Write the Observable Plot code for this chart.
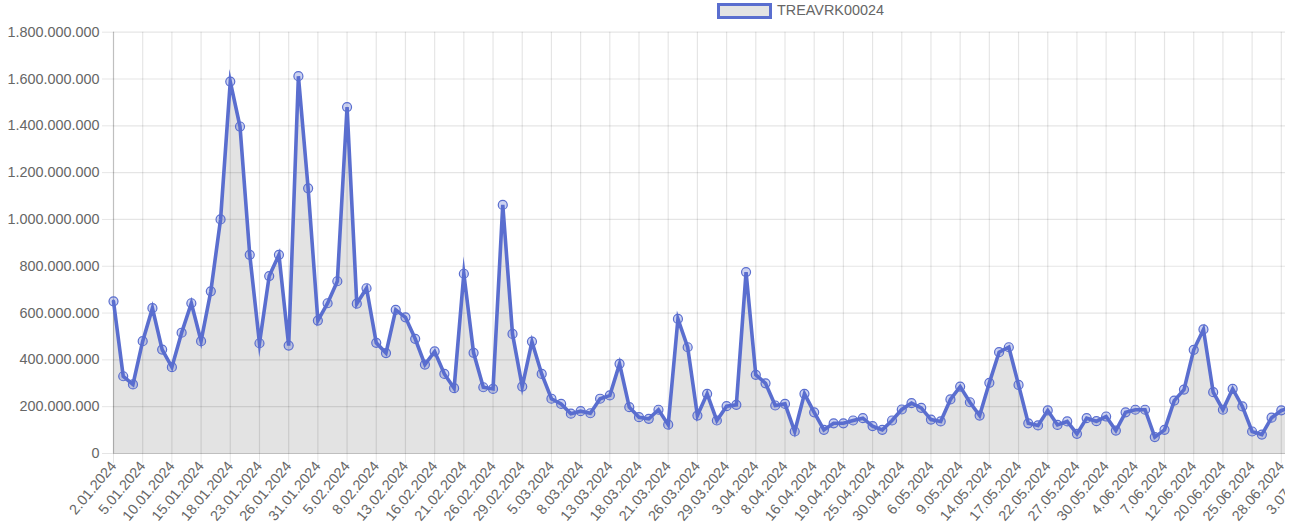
<!DOCTYPE html>
<html><head><meta charset="utf-8">
<script src="https://cdn.jsdelivr.net/npm/d3@7"></script>
<script src="https://cdn.jsdelivr.net/npm/@observablehq/plot@0.6"></script>
<style>
html,body{margin:0;padding:0;background:#fff;overflow:hidden;width:1298px;height:526px;}
#clip{position:absolute;left:0;top:0;width:1285px;height:526px;overflow:hidden;}
#inner{width:1330px;}
#legend{position:absolute;left:717px;top:3px;height:16px;font-family:"Liberation Sans",Arial,sans-serif;font-size:14.4px;color:#666;white-space:nowrap;}
#legend .box{position:absolute;left:0;top:0;width:55px;height:16px;box-sizing:border-box;border:3px solid #5a6ecf;background:#e3e3e3;}
#legend .lbl{position:absolute;left:60px;top:-1px;line-height:16px;}
</style></head><body>
<div id="clip"><div id="inner"></div></div>
<div id="legend"><span class="box"></span><span class="lbl">TREAVRK00024</span></div>
<script>
const seriesName = "TREAVRK00024";
const dates = [
"2.01.2024","3.01.2024","4.01.2024","5.01.2024","8.01.2024","9.01.2024","10.01.2024","11.01.2024","12.01.2024","15.01.2024","16.01.2024","17.01.2024","18.01.2024","19.01.2024","22.01.2024","23.01.2024","24.01.2024","25.01.2024","26.01.2024","29.01.2024","30.01.2024","31.01.2024",
"1.02.2024","2.02.2024","5.02.2024","6.02.2024","7.02.2024","8.02.2024","9.02.2024","12.02.2024","13.02.2024","14.02.2024","15.02.2024","16.02.2024","19.02.2024","20.02.2024","21.02.2024","22.02.2024","23.02.2024","26.02.2024","27.02.2024","28.02.2024","29.02.2024",
"1.03.2024","4.03.2024","5.03.2024","6.03.2024","7.03.2024","8.03.2024","11.03.2024","12.03.2024","13.03.2024","14.03.2024","15.03.2024","18.03.2024","19.03.2024","20.03.2024","21.03.2024","22.03.2024","25.03.2024","26.03.2024","27.03.2024","28.03.2024","29.03.2024",
"1.04.2024","2.04.2024","3.04.2024","4.04.2024","5.04.2024","8.04.2024","9.04.2024","15.04.2024","16.04.2024","17.04.2024","18.04.2024","19.04.2024","22.04.2024","24.04.2024","25.04.2024","26.04.2024","29.04.2024","30.04.2024",
"2.05.2024","3.05.2024","6.05.2024","7.05.2024","8.05.2024","9.05.2024","10.05.2024","13.05.2024","14.05.2024","15.05.2024","16.05.2024","17.05.2024","20.05.2024","21.05.2024","22.05.2024","23.05.2024","24.05.2024","27.05.2024","28.05.2024","29.05.2024","30.05.2024","31.05.2024",
"3.06.2024","4.06.2024","5.06.2024","6.06.2024","7.06.2024","10.06.2024","11.06.2024","12.06.2024","13.06.2024","14.06.2024","20.06.2024","21.06.2024","24.06.2024","25.06.2024","26.06.2024","27.06.2024","28.06.2024",
"1.07.2024","2.07.2024","3.07.2024"];
// values in millions
const valuesM = [
650,330,295,480,621,444,369,516,642,480,693,1000,1589,1397,849,471,758,849,461,1612,1133,568,
642,736,1480,640,706,473,429,614,582,490,380,436,340,279,768,430,283,276,1062,511,286,
478,340,234,212,170,181,172,234,248,383,198,155,148,187,123,575,454,162,255,141,202,
208,775,336,300,205,212,94,255,176,101,129,129,141,151,117,101,141,188,
215,195,145,137,231,286,219,162,302,433,454,293,129,120,184,122,137,84,151,138,158,98,
176,187,187,70,101,226,273,443,530,262,187,276,201,94,81,153,184,
195,190,185];
const yTicks = [0,200e6,400e6,600e6,800e6,1000e6,1200e6,1400e6,1600e6,1800e6];
const labelStep = 3;

const data = valuesM.map((v, i) => ({i, date: dates[i], v: v * 1e6}));
const xTicks = d3.range(0, dates.length, labelStep);
const fmt = d => String(Math.round(d)).replace(/\B(?=(\d{3})+(?!\d))/g, ".");
const grid = "rgba(0,0,0,0.1)";
const blue = "#5a6ecf";

const chart = Plot.plot({
  width: 1330, height: 526,
  marginLeft: 113, marginRight: 20, marginTop: 31.7, marginBottom: 73,
  style: {fontFamily: "'Liberation Sans', Arial, sans-serif", background: "white"},
  x: {type: "linear", domain: [0, dates.length - 1]},
  y: {domain: [0, 1.8e9]},
  marks: [
    Plot.areaY(data, {x: "i", y: "v", fill: "rgba(0,0,0,0.11)"}),
    Plot.ruleY(yTicks.slice(1), {stroke: grid, strokeWidth: 1.2}),
    Plot.ruleX(xTicks.slice(1), {y1: 0, y2: 1.8e9, stroke: grid, strokeWidth: 1.2}),
    Plot.ruleY([0], {stroke: "rgba(0,0,0,0.25)", strokeWidth: 1.2}),
    Plot.ruleX([0], {y1: 0, y2: 1.8e9, stroke: "rgba(0,0,0,0.25)", strokeWidth: 1.2}),
    Plot.axisY({ticks: yTicks, tickFormat: fmt, tickSize: 11, tickPadding: 3, stroke: grid, fill: "#666", fontSize: 14.4, label: null}),
    Plot.axisX({ticks: xTicks, tickFormat: i => dates[i], tickRotate: -50, tickSize: 10, tickPadding: 0, stroke: grid, fill: "#666", fontSize: 14.4, label: null}),
    Plot.lineY(data, {x: "i", y: "v", stroke: blue, strokeWidth: 3.6, strokeLinejoin: "miter", strokeMiterlimit: 10}),
    Plot.dot(data, {x: "i", y: "v", r: 4.5, fill: "rgba(90,110,207,0.3)", stroke: blue, strokeWidth: 1.2})
  ]
});
document.getElementById("inner").appendChild(chart);
</script>
</body></html>
